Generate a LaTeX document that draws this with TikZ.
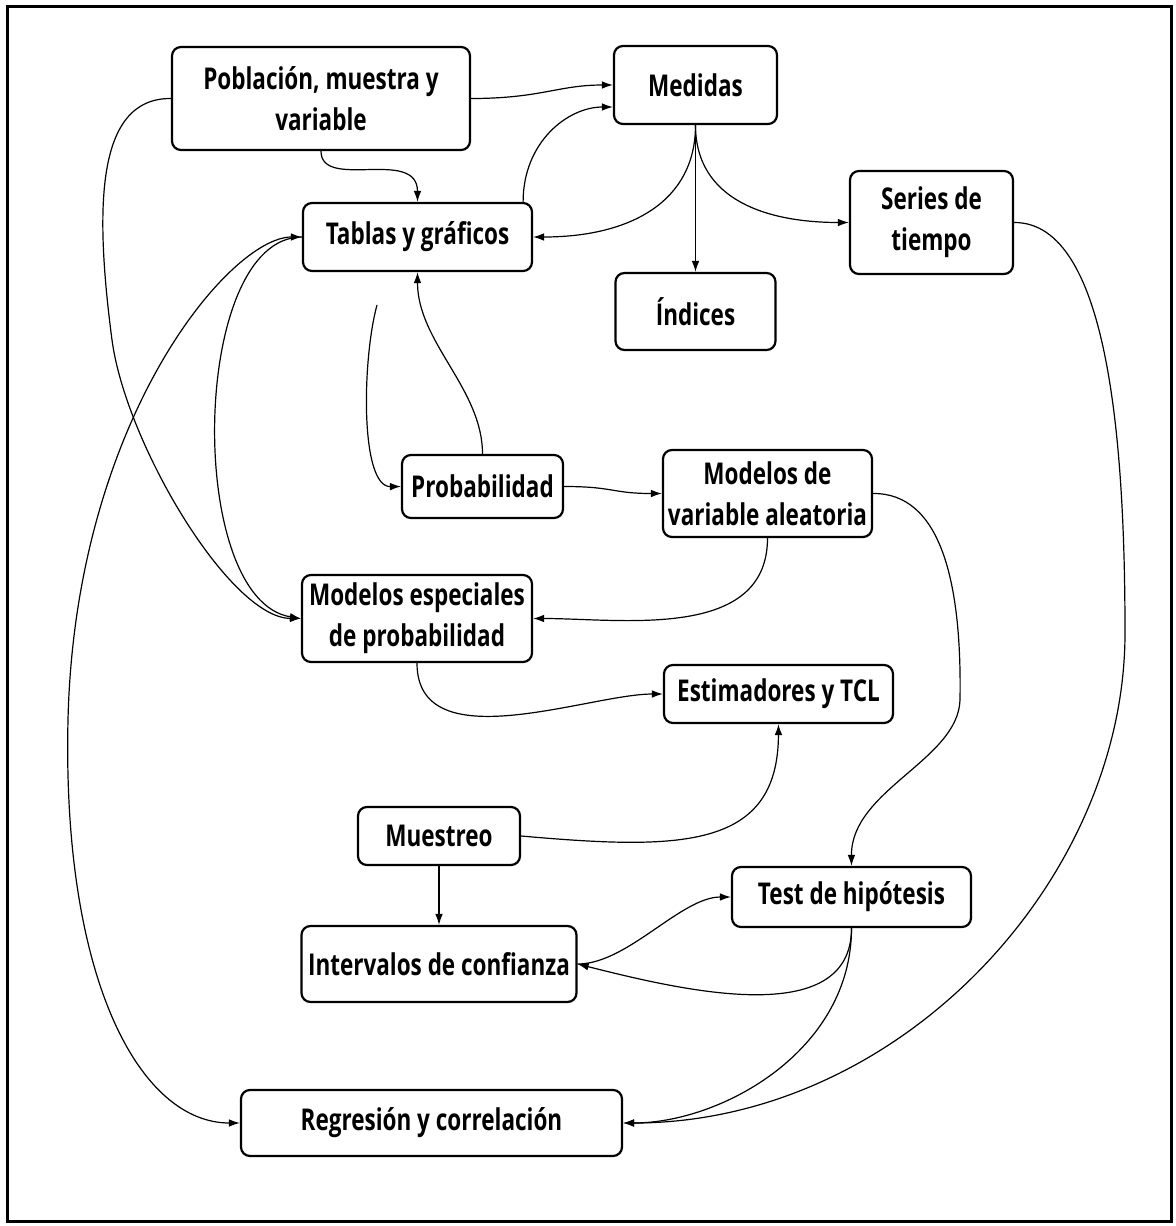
\documentclass[tikz,border=0pt]{standalone}
\usepackage{fontspec}
\newfontfamily\cajafont{Open Sans}[FakeStretch=0.75]
\usetikzlibrary{arrows.meta,calc}

\begin{document}
\begin{tikzpicture}[x=0.5pt,y=-0.5pt,
    caja/.style={draw, line width=1.1pt, rounded corners=4.5pt, align=center, inner sep=1pt,
      font=\cajafont\bfseries\fontsize{15}{20.5}\selectfont},
    flecha/.style={line width=0.6pt, -{Latex[length=5.5pt,width=3.8pt]}},
    doble/.style={flecha, {Latex[length=5.5pt,width=3.8pt]}-{Latex[length=5.5pt,width=3.8pt]}}]
  % Marco
  \useasboundingbox (0,0) rectangle (1176,1226);
  \draw[line width=1.5pt] (7,6) rectangle (1171,1221);
  % Cajas
  \node[caja, minimum width=149pt, minimum height=51.5pt] (pob) at (321,98.5) {Población, muestra y\\variable};
  \node[caja, minimum width=81.5pt, minimum height=39pt] (med) at (695.5,85) {Medidas};
  \node[caja, minimum width=114.5pt, minimum height=34pt] (tab) at (417.5,237) {Tablas y gráficos};
  \node[caja, minimum width=81.5pt, minimum height=51.5pt] (ser) at (931.5,222.5) {Series de\\tiempo};
  \node[caja, minimum width=80pt, minimum height=38.5pt] (ind) at (695.5,311.5) {Índices};
  \node[caja, minimum width=80.5pt, minimum height=31.5pt] (prob) at (482.5,486.5) {Probabilidad};
  \node[caja, minimum width=104.5pt, minimum height=43.5pt] (mva) at (767.5,493.5) {Modelos de\\variable aleatoria};
  \node[caja, minimum width=115pt, minimum height=43.5pt] (mesp) at (417,618.5) {Modelos especiales\\de probabilidad};
  \node[caja, minimum width=114.5pt, minimum height=29pt] (est) at (778.5,694) {Estimadores y TCL};
  \node[caja, minimum width=81pt, minimum height=29pt] (mue) at (439,836) {Muestreo};
  \node[caja, minimum width=119.5pt, minimum height=30pt] (test) at (851.5,897) {Test de hipótesis};
  \node[caja, minimum width=137.5pt, minimum height=38pt] (int) at (439,964) {Intervalos de confianza};
  \node[caja, minimum width=190.5pt, minimum height=33pt] (reg) at (431.5,1123) {Regresión y correlación};
  \coordinate (suelto) at (377,305);
  % Flechas de arriba
  \draw[flecha] (pob.east) .. controls +(70,0) and +(-55,0) .. (med.west);
  \draw[flecha] (pob.south) .. controls +(0,40) and +(0,-55) .. (tab.north);
  \draw[flecha] ($(tab.north east)+(-10,0)$) .. controls +(0,-60) and +(-45,0) .. ($(med.west)+(0,22)$);
  \draw[flecha] (med.south) .. controls +(0,76) and +(98,0) .. (tab.east);
  \draw[flecha] (med.south) -- (ind.north);
  \draw[flecha] (med.south) .. controls +(0,76) and +(-80,0) .. (ser.west);
  \draw[flecha] (ser.east) .. controls (1110,222) and (1125,450) .. (1125,633)
    .. controls (1125,880) and (900,1123) .. (reg.east);
  % Flechas de la izquierda
  \draw[flecha] (pob.west) .. controls (95,98) and (95,210) .. (112,340)
    .. controls (126,444) and (230,618) .. (mesp.west);
  \draw[flecha] (tab.west) .. controls (190,237) and (185,600) .. (mesp.west);
  \draw[doble] (tab.west) .. controls (230,237) and (75,420) .. (68,720)
    .. controls (62,980) and (140,1123) .. (reg.west);
  % Flechas del centro
  \draw[flecha] (suelto) .. controls (362,360) and (360,487) .. (prob.west);
  \draw[flecha] (prob.north) .. controls +(0,-65) and +(0,70) .. (tab.south);
  \draw[flecha] (prob.east) .. controls +(50,0) and +(-50,0) .. (mva.west);
  \draw[flecha] (mva.south) .. controls +(0,103) and +(88,0) .. (mesp.east);
  \draw[flecha] (mva.east) .. controls (940,493) and (962,580) .. (960,700)
    .. controls (958,760) and (851,790) .. (test.north);
  \draw[flecha] (mesp.south) .. controls +(0,98) and +(-74,0) .. (est.west);
  % Flechas de abajo
  \draw[flecha] (mue.east) .. controls (680,850) and (778,850) .. (est.south);
  \draw[flecha] (mue.south) -- (int.north);
  \draw[flecha] (int.east) .. controls +(50,0) and +(-50,0) .. (test.west);
  \draw[flecha] (test.south) .. controls +(0,103) and +(103,26) .. (int.east);
  \draw[flecha] (test.south) .. controls +(0,123) and +(98,0) .. (reg.east);
\end{tikzpicture}
\end{document}
